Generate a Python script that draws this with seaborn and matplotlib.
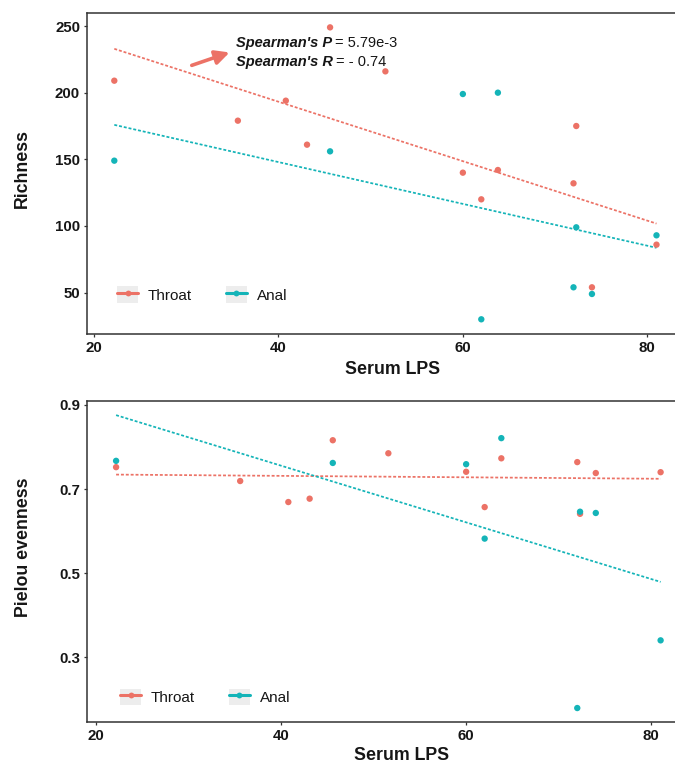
import numpy as np
import pandas as pd
import matplotlib
matplotlib.use("Agg")
import matplotlib.pyplot as plt
from matplotlib import font_manager
from matplotlib.lines import Line2D
from matplotlib.patches import Rectangle
from matplotlib.legend_handler import HandlerLine2D
import seaborn as sns

# ---- data -------------------------------------------------------------
lps_throat = [22.2, 35.6, 40.8, 43.1, 45.6, 51.6, 60.0, 62.0, 63.8, 72.0, 72.3, 74.0, 81.0]
richness_throat = [209, 179, 194, 161, 249, 216, 140, 120, 142, 132, 175, 54, 86]
evenness_throat = [0.752, 0.719, 0.669, 0.677, 0.816, 0.785, 0.741, 0.657, 0.773,
                   0.764, 0.641, 0.738, 0.740]

lps_anal = [22.2, 45.6, 60.0, 62.0, 63.8, 72.0, 72.3, 74.0, 81.0]
richness_anal = [149, 156, 199, 30, 200, 54, 99, 49, 93]
evenness_anal = [0.767, 0.762, 0.759, 0.582, 0.821, 0.179, 0.646, 0.643, 0.340]

sites = ["Throat", "Anal"]
spearman_p = "5.79e-3"
spearman_r = "- 0.74"

palette = {"Throat": "#EC7266", "Anal": "#14B4B8"}
KEY_BG = "#EDEDED"
INK = "#161616"

df = pd.concat([
    pd.DataFrame({"site": "Throat", "lps": lps_throat,
                  "Richness": richness_throat, "Pielou evenness": evenness_throat}),
    pd.DataFrame({"site": "Anal", "lps": lps_anal,
                  "Richness": richness_anal, "Pielou evenness": evenness_anal}),
], ignore_index=True)

# ---- style ------------------------------------------------------------
sns.set_theme(style="white")
plt.rcParams["font.family"] = ["Liberation Sans", "DejaVu Sans"]
available = {f.name for f in font_manager.fontManager.ttflist}
legend_family = "Liberation Sans Narrow" if "Liberation Sans Narrow" in available else "Liberation Sans"


class KeyHandler(HandlerLine2D):
    """Legend key drawn as a line with a dot on a light grey tile."""
    def create_artists(self, legend, orig_handle, xdescent, ydescent,
                       width, height, fontsize, trans):
        tile = Rectangle((-xdescent, -ydescent), width, height,
                         facecolor=KEY_BG, edgecolor="none", transform=trans)
        arts = super().create_artists(legend, orig_handle, xdescent, ydescent,
                                      width, height, fontsize, trans)
        return [tile, *arts]


fig = plt.figure(figsize=(6.75, 7.63), dpi=100)
ax_top = fig.add_axes([0.1289, 0.5623, 0.8919, 0.4207])
ax_bot = fig.add_axes([0.1289, 0.0533, 0.8919, 0.4215])


def draw_panel(ax, metric):
    sns.scatterplot(data=df, x="lps", y=metric, hue="site", hue_order=sites,
                    palette=palette, s=21, linewidth=0, legend=False, ax=ax, zorder=3)
    for site in sites:
        sub = df[df["site"] == site]
        sns.regplot(data=sub, x="lps", y=metric, scatter=False, ci=None, ax=ax,
                    color=palette[site],
                    line_kws=dict(lw=1.25, linestyle=(0, (1.7, 1.1)), zorder=2))
    for side in ("left", "bottom", "top"):
        ax.spines[side].set_visible(True)
        ax.spines[side].set_color("#333333")
        ax.spines[side].set_linewidth(1.1)
    ax.spines["right"].set_visible(False)
    ax.tick_params(axis="both", which="major", length=2.5, width=0.9, color="#333333",
                   pad=2.5, labelsize=10.8, labelcolor=INK, bottom=True, left=True)
    ax.set_xlabel("Serum LPS", fontsize=12.8, fontweight="bold", color=INK)
    ax.set_ylabel(metric, fontsize=12.8, fontweight="bold", color=INK)

    handles = [Line2D([], [], color=palette[s], lw=2.2, marker="o", markersize=4.2,
                      markeredgewidth=0) for s in sites]
    return handles


leg_kw = dict(ncol=2, frameon=False, borderaxespad=0, borderpad=0,
              handlelength=1.37, handleheight=1.3, handletextpad=0.65,
              columnspacing=2.2, loc="center left",
              prop=dict(family=legend_family, size=11),
              handler_map={Line2D: KeyHandler()})

# ---- top panel: richness ---------------------------------------------
handles = draw_panel(ax_top, "Richness")
ax_top.set_xlim(19.24, 84.53)
ax_top.set_ylim(19.0, 259.8)
ax_top.set_xticks([20, 40, 60, 80])
ax_top.set_yticks([50, 100, 150, 200, 250])
for lab in ax_top.get_xticklabels() + ax_top.get_yticklabels():
    lab.set_fontweight("bold")
ax_top.xaxis.set_label_coords(0.507, -0.084)
ax_top.yaxis.set_label_coords(-0.093, 0.514)

leg = ax_top.legend(handles, sites, bbox_to_anchor=(0.05, 0.123), **leg_kw)
for t in leg.get_texts():
    t.set_color(INK)

t1 = ax_top.text(35.4, 237.2, "Spearman's P", fontsize=10.5, fontweight="bold",
                 fontstyle="italic", color=INK, va="center", ha="left")
ax_top.annotate("= " + spearman_p, xy=(1, 0.5), xycoords=t1, xytext=(2, 0),
                textcoords="offset points", va="center", ha="left",
                fontsize=10.5, color=INK)
t2 = ax_top.text(35.4, 223.0, "Spearman's R", fontsize=10.5, fontweight="bold",
                 fontstyle="italic", color=INK, va="center", ha="left")
ax_top.annotate("= " + spearman_r, xy=(1, 0.5), xycoords=t2, xytext=(2, 0),
                textcoords="offset points", va="center", ha="left",
                fontsize=10.5, color=INK)
ax_top.annotate("", xy=(34.7, 230.2), xytext=(30.6, 220.5),
                arrowprops=dict(arrowstyle="-|>,head_length=0.6,head_width=0.3",
                                lw=2.6, color=palette["Throat"], shrinkA=0, shrinkB=0,
                                mutation_scale=14))

# ---- bottom panel: Pielou evenness -----------------------------------
handles = draw_panel(ax_bot, "Pielou evenness")
ax_bot.set_xlim(19.06, 84.07)
ax_bot.set_ylim(0.145, 0.910)
ax_bot.set_xticks([20, 40, 60, 80])
ax_bot.set_yticks([0.3, 0.5, 0.7, 0.9])
for lab in ax_bot.get_xticklabels() + ax_bot.get_yticklabels():
    lab.set_fontweight("bold")
ax_bot.xaxis.set_label_coords(0.523, -0.077)
ax_bot.yaxis.set_label_coords(-0.091, 0.545)
leg = ax_bot.legend(handles, sites, bbox_to_anchor=(0.055, 0.079), **leg_kw)
for t in leg.get_texts():
    t.set_color(INK)

fig.savefig("out.png", dpi=100)
